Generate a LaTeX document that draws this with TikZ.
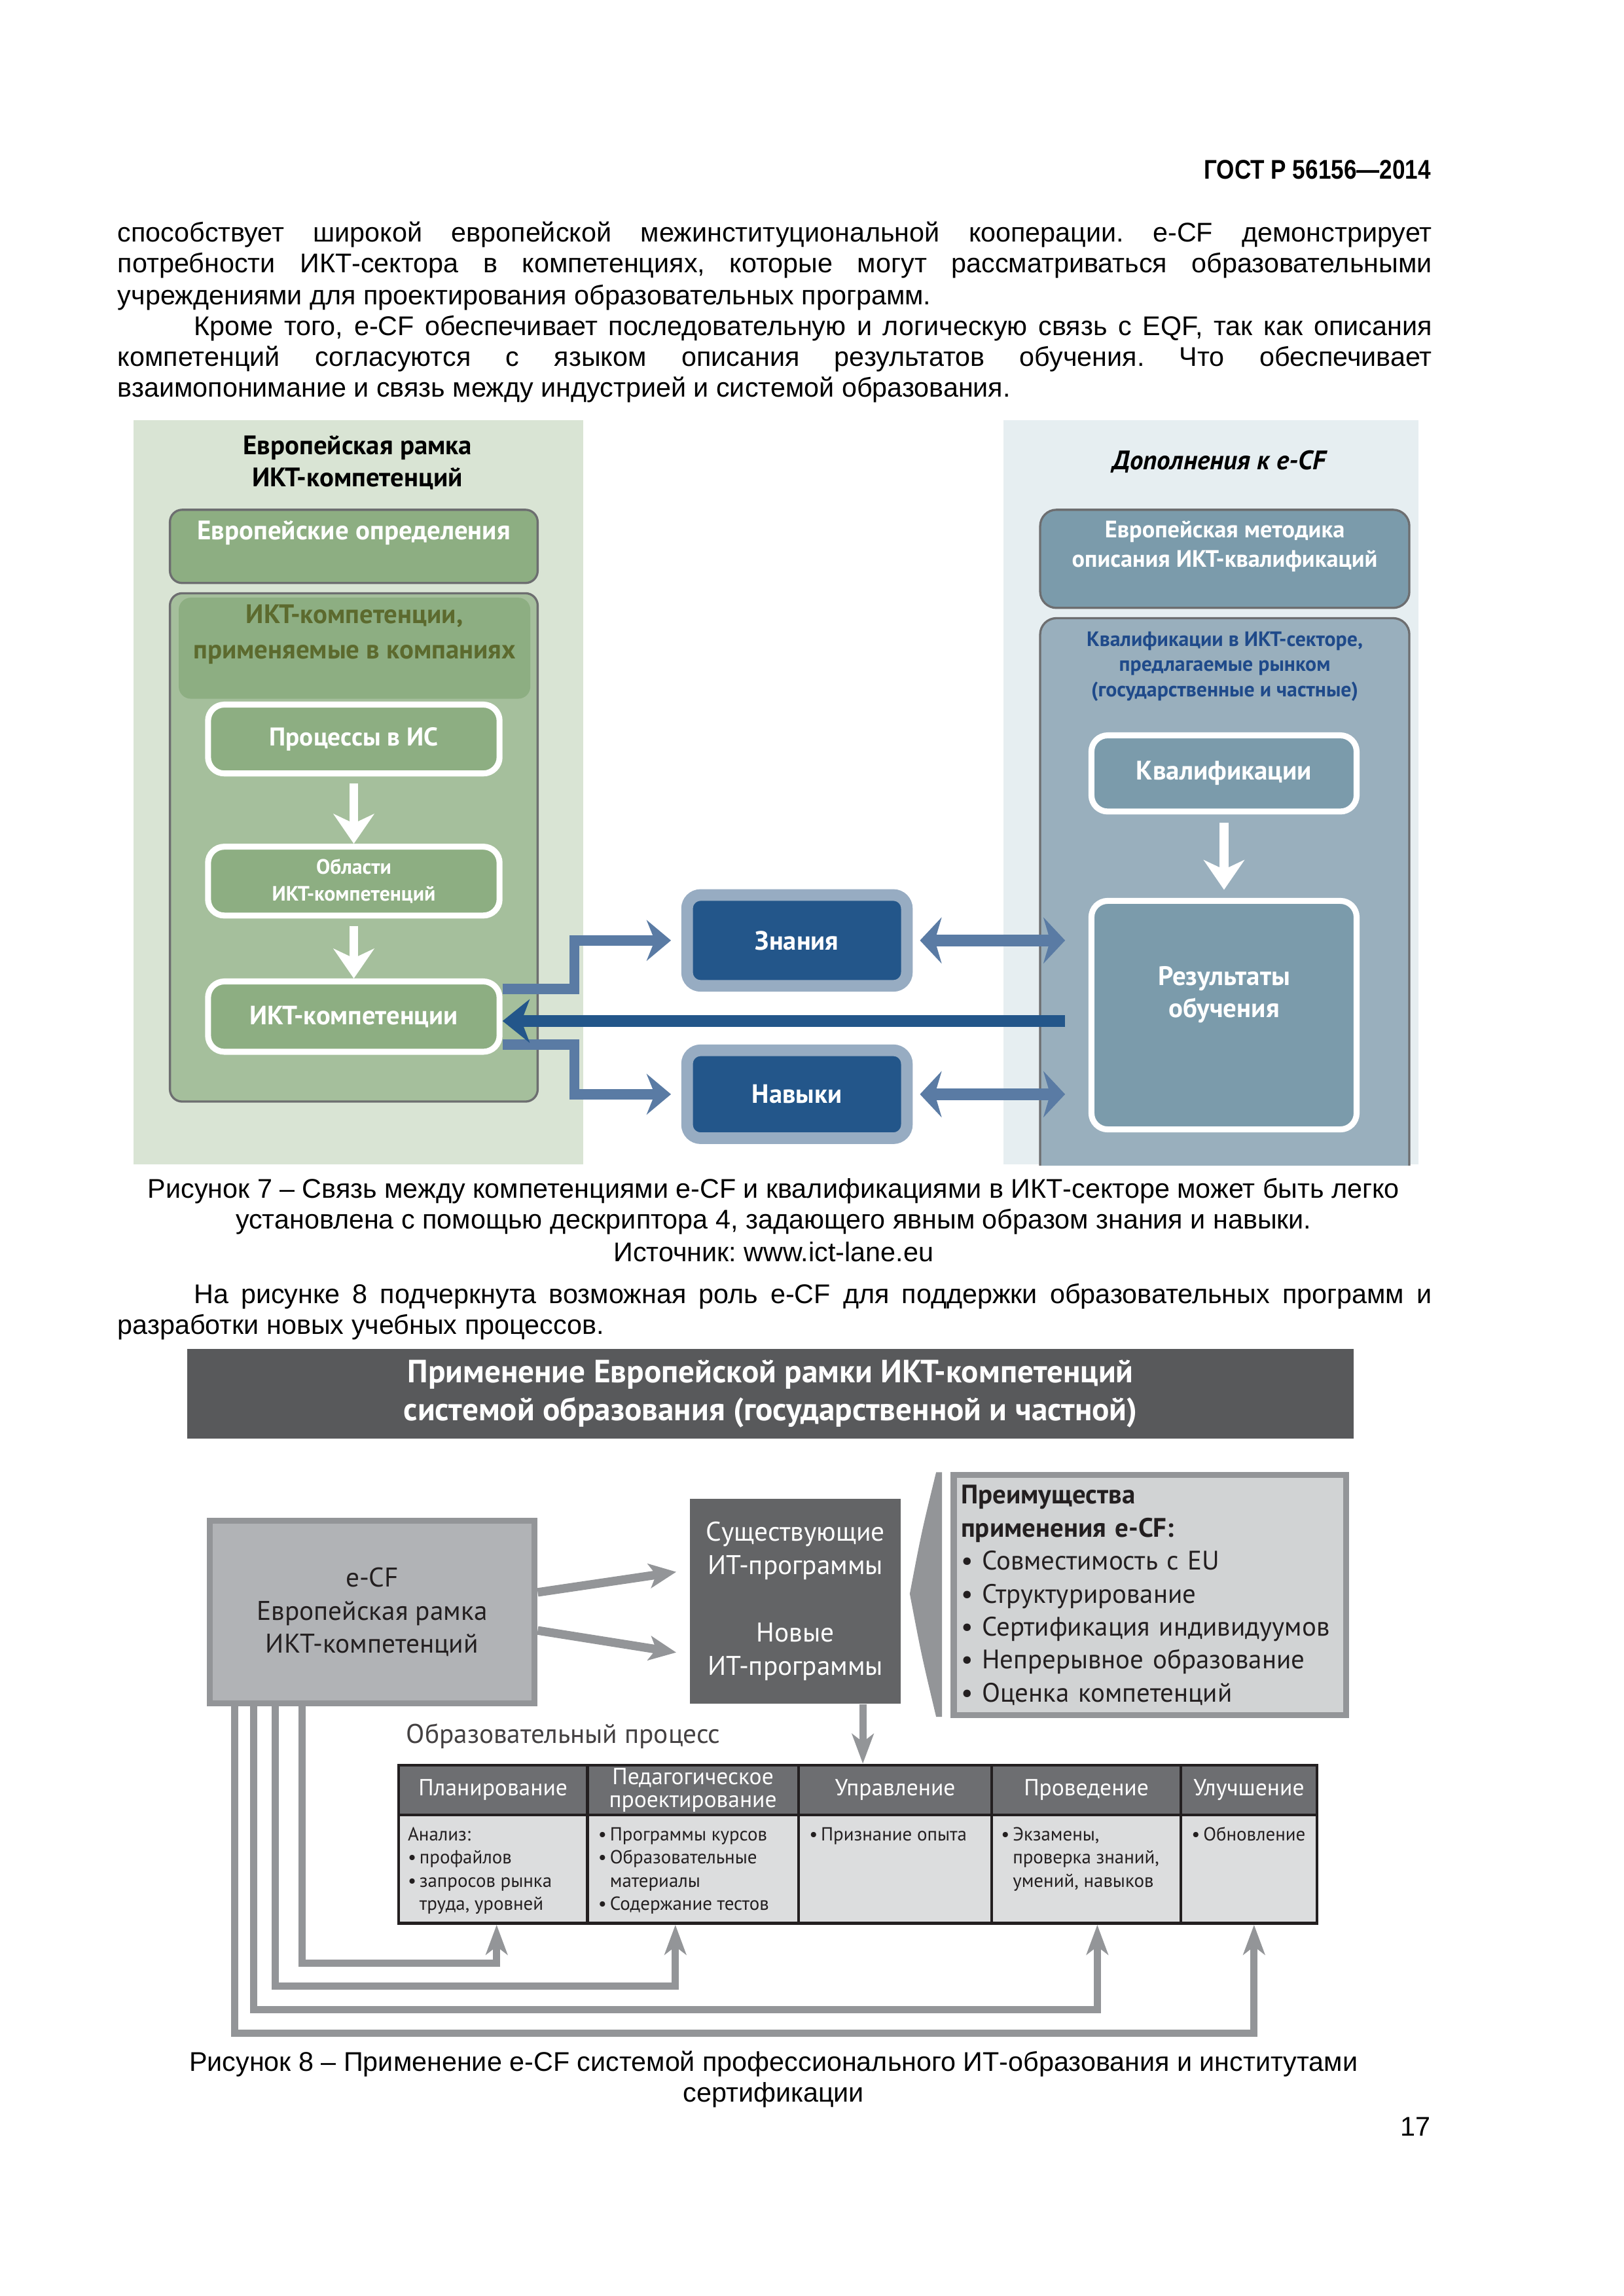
\documentclass[tikz,border=0pt]{standalone}
\usepackage{fontspec}
\usepackage{graphicx}
\setmainfont{Liberation Sans}
\newfontfamily\figfont{PT Sans}
\usetikzlibrary{arrows.meta}
\newlength\ux
\setlength\ux{0.019039cm}
\newcommand\tbul{•\,}
\frenchspacing
\definecolor{palegreen}{HTML}{D9E4D4}
\definecolor{paleblue}{HTML}{E6EEF1}
\definecolor{midgreen}{HTML}{8DAE82}
\definecolor{lightgreen}{HTML}{A5BF9C}
\definecolor{olivetext}{HTML}{5C6A2E}
\definecolor{boxedge}{HTML}{6D6E70}
\definecolor{steel}{HTML}{7B9BAB}
\definecolor{lightsteel}{HTML}{99AFBD}
\definecolor{navy}{HTML}{23568A}
\definecolor{midblue}{HTML}{5A7BA4}
\definecolor{frameblue}{HTML}{97ACC2}
\definecolor{darkblue}{HTML}{1F4A8A}
\definecolor{titlegray}{HTML}{58595B}
\definecolor{proggray}{HTML}{636466}
\definecolor{ecfgray}{HTML}{B1B3B6}
\definecolor{edgegray}{HTML}{939598}
\definecolor{benefgray}{HTML}{D1D3D4}
\definecolor{hdrgray}{HTML}{6D6E71}
\definecolor{bodygray}{HTML}{DCDDDE}
\definecolor{tablebk}{HTML}{231F20}
\definecolor{darktext}{HTML}{231F20}
\begin{document}
\begin{tikzpicture}[x=0.019039cm,y=-0.019039cm,
  line/.style={inner sep=0pt,anchor=base west,font=\fontsize{10}{12}\selectfont},
  capline/.style={inner sep=0pt,anchor=base,font=\fontsize{10}{12}\selectfont},
  panel/.style={rectangle,draw=none,inner sep=0pt},
  title7/.style={inner sep=0pt,align=center,font=\figfont\bfseries\fontsize{9.9}{11.9}\selectfont},
  wtext/.style={inner sep=0pt,align=center,text=white,font=\figfont\bfseries\fontsize{9.9}{11.9}\selectfont},
  gbox/.style={rectangle,rounded corners=4.5pt,fill=midgreen,draw=boxedge,line width=0.8pt,inner sep=0pt},
  sbox/.style={rectangle,rounded corners=6pt,fill=steel,draw=boxedge,line width=0.8pt,inner sep=0pt},
  wbox/.style={rectangle,rounded corners=6pt,fill=midgreen,draw=white,line width=2.2pt,inner sep=0pt,
    align=center,text=white,font=\figfont\bfseries\fontsize{9.8}{11.9}\selectfont},
  kbox/.style={rectangle,rounded corners=5pt,fill=navy,draw=frameblue,line width=4.3pt,inner sep=0pt,
    text=white,font=\figfont\bfseries\fontsize{9.8}{11.9}\selectfont},
  whitearrow/.style={draw=white,line width=3.3pt,-{Stealth[length=11pt,width=15pt,inset=3.5pt]}},
  bluearrow/.style={draw=midblue,line width=3.8pt,line join=miter,-{Stealth[length=9pt,width=15pt,inset=3pt]}},
  navyarrow/.style={draw=navy,line width=4.3pt,-{Stealth[length=10pt,width=16pt,inset=3pt]}},
  dblarrow/.style={draw=midblue,line width=4.3pt,
    {Stealth[length=8pt,width=17pt,inset=2.5pt]}-{Stealth[length=8pt,width=17pt,inset=2.5pt]}},
  f8/.style={font=\figfont\fontsize{10}{12.2}\selectfont},
  grayarrow/.style={draw=edgegray,line width=3.2pt,-{Stealth[length=10pt,width=9pt,inset=2.5pt]}},
  fbarrow/.style={draw=edgegray,line width=2.7pt,line join=miter,-{Stealth[length=11pt,width=8pt,inset=3pt]}},
  hcell/.style={rectangle,fill=hdrgray,draw=tablebk,line width=1.1pt,inner sep=0pt,minimum height=34*\ux,
    text=white,align=center,font=\figfont\fontsize{8.6}{8.6}\selectfont},
  bcell/.style={rectangle,fill=bodygray,draw=tablebk,line width=1.1pt,inner sep=0pt,minimum height=74*\ux},
  ctext/.style={inner sep=0pt,anchor=north west,align=left,text=darktext,font=\figfont\fontsize{7}{8.6}\selectfont}]
\useasboundingbox[fill=white] (0,0) rectangle (1108.5,1567.4);

% page header and text
\node[inner sep=0pt,anchor=base east,font=\bfseries\fontsize{10}{12}\selectfont] (gost) at (977,122)
  {\scalebox{0.85}[1]{ГОСТ Р 56156—2014}};
\node[line] (l1) at (80,165) {\makebox[897\ux][s]{способствует широкой европейской межинституциональной кооперации. e-CF демонстрирует}};
\node[line] (l2) at (80,186) {\makebox[897\ux][s]{потребности ИКТ-сектора в компетенциях, которые могут рассматриваться образовательными}};
\node[line] (l3) at (80,208) {учреждениями для проектирования образовательных программ.};
\node[line] (l4) at (132,229) {\makebox[845\ux][s]{Кроме того, e-CF обеспечивает последовательную и логическую связь с EQF, так как описания}};
\node[line] (l5) at (80,250) {\makebox[897\ux][s]{компетенций согласуются с языком описания результатов обучения. Что обеспечивает}};
\node[line] (l6) at (80,271) {взаимопонимание и связь между индустрией и системой образования.};

% figure 7
\node[panel,fill=palegreen,minimum width=307*\ux,minimum height=508*\ux] (leftpanel) at (244.5,541) {};
\node[panel,fill=paleblue,minimum width=283*\ux,minimum height=508*\ux] (rightpanel) at (826.5,541) {};

\node[title7] (lefttitle) at (244,316) {Европейская рамка\\ИКТ-компетенций};
\node[gbox,minimum width=251*\ux,minimum height=50*\ux] (defbox) at (241.5,373) {};
\node[wtext] (deftext) at (241.5,364) {Европейские определения};
\node[gbox,fill=lightgreen,minimum width=251*\ux,minimum height=347*\ux] (compbox) at (241.5,578.5) {};
\node[rectangle,rounded corners=4.5pt,fill=midgreen,inner sep=0pt,minimum width=240*\ux,minimum height=69*\ux] (comphead) at (242,442.5) {};
\node[title7,text=olivetext,font=\figfont\bfseries\fontsize{9.9}{13}\selectfont] (compheadtext) at (242,433)
  {ИКТ-компетенции,\\применяемые в компаниях};
\node[wbox,minimum width=199*\ux,minimum height=47*\ux,font=\figfont\bfseries\fontsize{9.5}{11.9}\selectfont] (procbox) at (241.5,504.5) {Процессы в ИС};
\node[wbox,minimum width=199*\ux,minimum height=47*\ux,font=\figfont\bfseries\fontsize{7.7}{9.75}\selectfont] (areabox) at (241.5,601.5)
  {Области\\ИКТ-компетенций};
\node[wbox,minimum width=199*\ux,minimum height=48*\ux] (ictbox) at (241.5,694) {ИКТ-компетенции};
\draw[whitearrow,shorten <=2.7pt] (procbox.south) -- (areabox.north);
\draw[whitearrow,shorten <=2.7pt] (areabox.south) -- (ictbox.north);

\node[kbox,minimum width=150*\ux,minimum height=62*\ux] (knowbox) at (544,642) {Знания};
\node[kbox,minimum width=150*\ux,minimum height=60*\ux] (skillbox) at (544,747) {Навыки};

\node[title7,font=\figfont\bfseries\itshape\fontsize{9.9}{11.9}\selectfont] (righttitle) at (832,315) {Дополнения к e-CF};
\node[sbox,minimum width=252*\ux,minimum height=67*\ux] (methbox) at (836,381.5) {};
\node[wtext,font=\figfont\bfseries\fontsize{8.8}{10.8}\selectfont] (methtext) at (836,373)
  {Европейская методика\\описания ИКТ-квалификаций};
\begin{scope}
  \clip (rightpanel.north west) rectangle (rightpanel.south east);
  \node[sbox,fill=lightsteel,minimum width=252*\ux,minimum height=388*\ux] (qualpanel) at (836,616) {};
\end{scope}
\node[title7,text=darkblue,font=\figfont\bfseries\fontsize{7.7}{9.4}\selectfont] (qualhead) at (836,455)
  {Квалификации в ИКТ-секторе,\\предлагаемые рынком\\(государственные и частные)};
\node[wbox,fill=steel,minimum width=181*\ux,minimum height=52*\ux,font=\figfont\bfseries\fontsize{9.9}{11.9}\selectfont] (qualbox) at (835.5,528) {Квалификации};
\node[wbox,fill=steel,minimum width=181*\ux,minimum height=156*\ux] (resbox) at (835.5,693) {};
\node[wtext] (restext) at (835.5,679) {Результаты\\обучения};
\draw[whitearrow,shorten <=3pt,shorten >=3pt] (qualbox.south) -- (resbox.north);

\coordinate (knowbend) at (392,642);
\coordinate (skillbend) at (392,747);
\coordinate (resleft) at (727,697);
\draw[bluearrow,shorten >=3.8pt] ([yshift=10.3pt]ictbox.east) -| (knowbend) -- (knowbox.west);
\draw[bluearrow,shorten >=3.8pt] ([yshift=-10.3pt]ictbox.east) -| (skillbend) -- (skillbox.west);
\draw[navyarrow] (resleft) -- (resleft -| ictbox.east);
\draw[dblarrow,shorten <=2.7pt] (knowbox.east) -- (knowbox.east -| resleft);
\draw[dblarrow,shorten <=2.7pt] (skillbox.east) -- (skillbox.east -| resleft);

\node[capline] (cap7a) at (528,818) {Рисунок 7 – Связь между компетенциями e-CF и квалификациями в ИКТ-секторе может быть легко};
\node[capline] (cap7b) at (528,839) {установлена с помощью дескриптора 4, задающего явным образом знания и навыки.};
\node[capline] (cap7c) at (528,861) {Источник: www.ict-lane.eu};
\node[line] (p8a) at (132,890) {\makebox[845\ux][s]{На рисунке 8 подчеркнута возможная роль e-CF для поддержки образовательных программ и}};
\node[line] (p8b) at (80,911) {разработки новых учебных процессов.};

% figure 8
\node[rectangle,fill=titlegray,inner sep=0pt,minimum width=796*\ux,minimum height=61*\ux,text=white,align=center,
  font=\figfont\bfseries\fontsize{11.9}{14}\selectfont] (titlebar) at (526,951.5)
  {Применение Европейской рамки ИКТ-компетенций\\системой образования (государственной и частной)};
\node[rectangle,f8,fill=ecfgray,draw=edgegray,line width=2.2pt,inner sep=0pt,minimum width=222*\ux,minimum height=125*\ux,
  align=center,text=darktext] (ecfbox) at (254,1100.5) {e-CF\\Европейская рамка\\ИКТ-компетенций};
\node[rectangle,f8,fill=proggray,inner sep=0pt,minimum width=144*\ux,minimum height=140*\ux,align=center,text=white,
  font=\figfont\fontsize{10}{12.4}\selectfont] (progbox) at (543,1093)
  {Существующие\\ИТ-программы\\[12.4pt]Новые\\ИТ-программы};
\fill[edgegray] (643,1005) -- (639,1005) .. controls (629,1046) .. (621,1088) .. controls (629,1130) .. (639,1172) -- (643,1172) -- cycle;
\node[rectangle,fill=benefgray,draw=edgegray,line width=2.2pt,inner ysep=0pt,inner xsep=5*\ux,
  minimum height=164*\ux,text width=258*\ux,align=left,text=darktext,
  font=\figfont\fontsize{9.9}{12.2}\selectfont] (benefits) at (785,1089)
  {{\bfseries Преимущества\\применения e-CF:}\\• Совместимость с EU\\• Структурирование\\• Сертификация индивидуумов\\• Непрерывное образование\\• Оценка компетенций};
\draw[grayarrow] ([yshift=7.3pt]ecfbox.east) -- ([xshift=-4.9pt,yshift=10.8pt]progbox.west);
\draw[grayarrow] ([yshift=-6.8pt]ecfbox.east) -- ([xshift=-4.9pt,yshift=-19pt]progbox.west);

\node[inner sep=0pt,anchor=base west,f8,text=darktext!85] (eduproc) at (277,1190) {Образовательный процесс};

\node[hcell,minimum width=129*\ux] (h1) at (336.5,1222) {Планирование};
\node[hcell,minimum width=144*\ux] (h2) at (473,1222) {Педагогическое\\проектирование};
\node[hcell,minimum width=132*\ux] (h3) at (611,1222) {Управление};
\node[hcell,minimum width=129*\ux] (h4) at (741.5,1222) {Проведение};
\node[hcell,minimum width=93*\ux] (h5) at (852.5,1222) {Улучшение};
\node[bcell,minimum width=129*\ux] (b1) at (336.5,1276) {};
\node[bcell,minimum width=144*\ux] (b2) at (473,1276) {};
\node[bcell,minimum width=132*\ux] (b3) at (611,1276) {};
\node[bcell,minimum width=129*\ux] (b4) at (741.5,1276) {};
\node[bcell,minimum width=93*\ux] (b5) at (852.5,1276) {};
\node[ctext] (t1) at (278,1247) {Анализ:\\\tbul профайлов\\\tbul запросов рынка\\\phantom{\tbul}труда, уровней};
\node[ctext] (t2) at (408,1247) {\tbul Программы курсов\\\tbul Образовательные\\\phantom{\tbul}материалы\\\tbul Содержание тестов};
\node[ctext] (t3) at (552,1247) {\tbul Признание опыта};
\node[ctext] (t4) at (683,1247) {\tbul Экзамены,\\\phantom{\tbul}проверка знаний,\\\phantom{\tbul}умений, навыков};
\node[ctext] (t5) at (813,1247) {\tbul Обновление};

\draw[grayarrow,line width=2.7pt,-{Stealth[length=11pt,width=8pt,inset=3pt]}] ([xshift=24.9pt]progbox.south) -- ([xshift=24.9pt]progbox.south |- h3.north);

% feedback from e-CF to the process steps
\coordinate (fb1) at (339,1340);
\coordinate (fb2) at (461,1356);
\coordinate (fb3) at (749,1372);
\coordinate (fb4) at (856,1388);
\draw[fbarrow] ([xshift=-26pt]ecfbox.south) |- (fb1) -- (fb1 |- b1.south);
\draw[fbarrow] ([xshift=-35.8pt]ecfbox.south) |- (fb2) -- (fb2 |- b2.south);
\draw[fbarrow] ([xshift=-43.9pt]ecfbox.south) |- (fb3) -- (fb3 |- b4.south);
\draw[fbarrow] ([xshift=-50.9pt]ecfbox.south) |- (fb4) -- (fb4 |- b5.south);

\node[capline] (cap8a) at (528,1414) {Рисунок 8 – Применение e-CF системой профессионального ИТ-образования и институтами};
\node[capline] (cap8b) at (528,1435) {сертификации};
\node[inner sep=0pt,anchor=base east,font=\fontsize{10}{12}\selectfont] (pagenum) at (977,1458) {17};
\end{tikzpicture}
\end{document}
